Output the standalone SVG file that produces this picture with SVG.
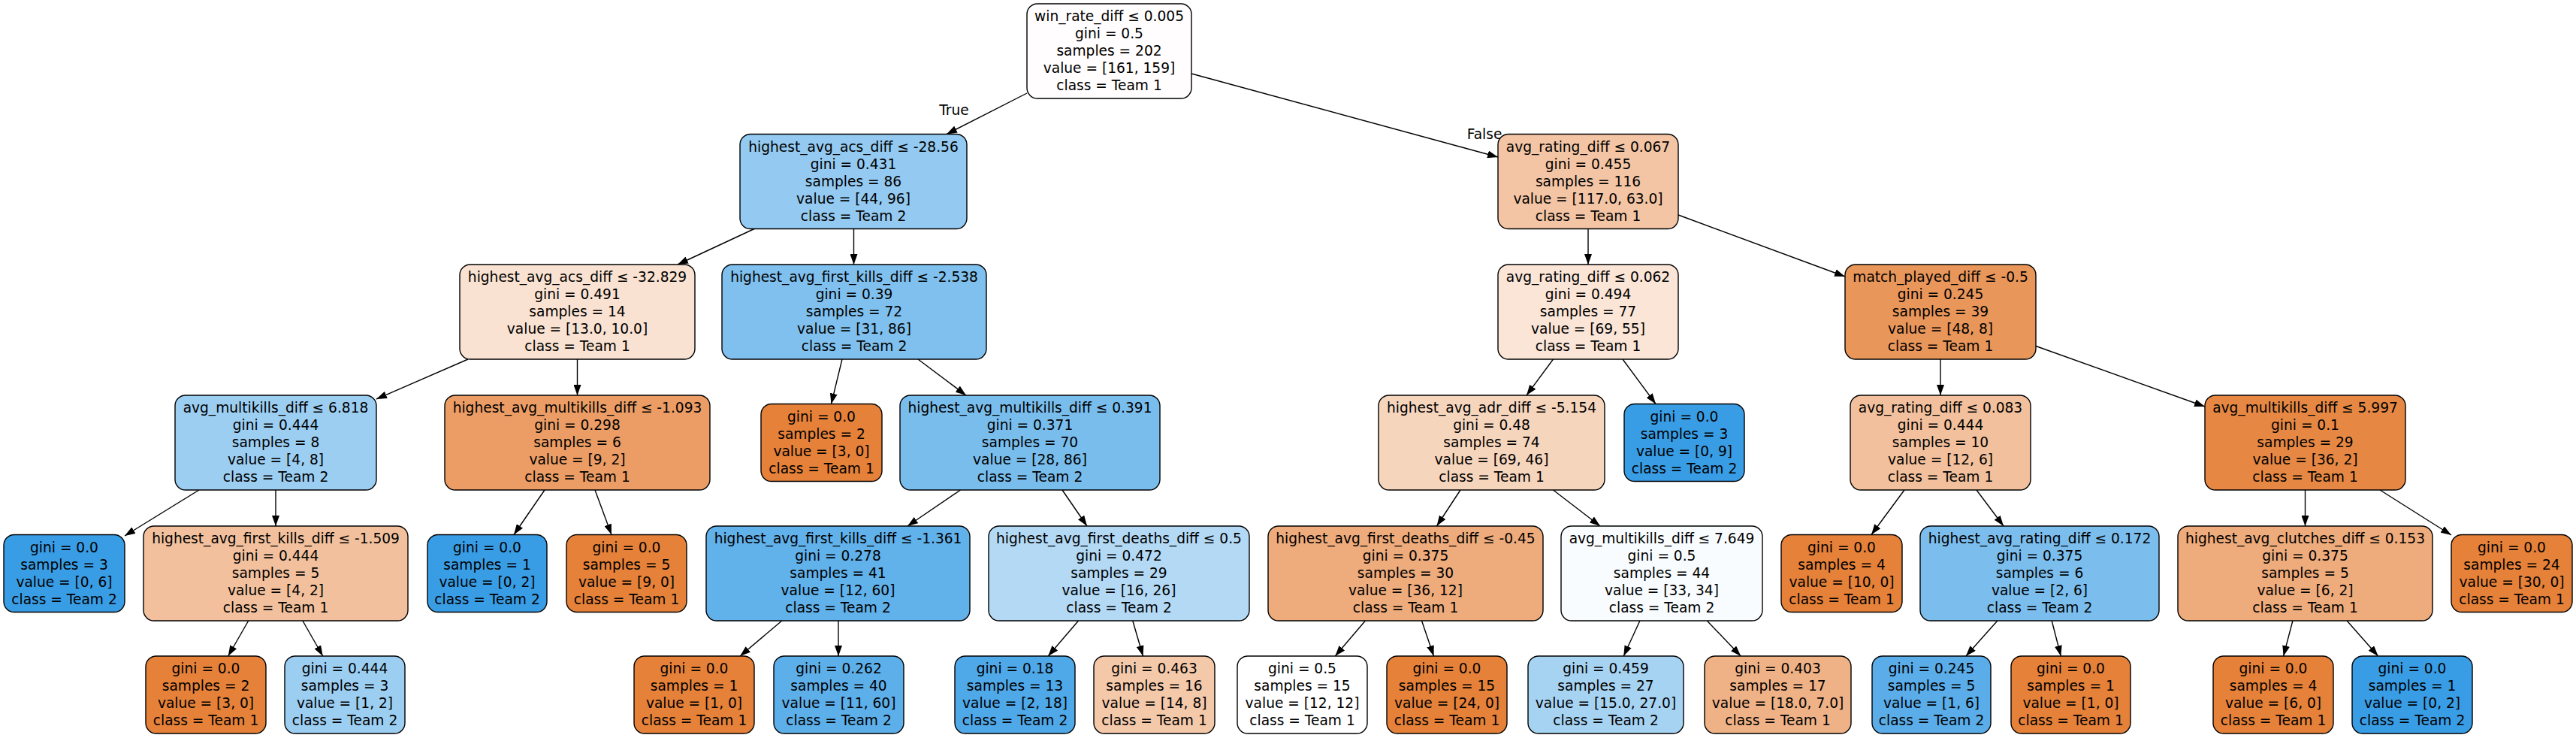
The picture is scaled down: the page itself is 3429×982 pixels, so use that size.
<svg xmlns="http://www.w3.org/2000/svg" width="3429" height="982" viewBox="0 0 3429 982">
<style>
.box{stroke:#000;stroke-width:1.4}
.t{font-family:"DejaVu Sans","Liberation Sans",sans-serif;font-size:18.6px;fill:#000;text-anchor:middle}
.e{stroke:#000;stroke-width:1.4;fill:none;marker-end:url(#arr)}
</style>
<defs>
<marker id="arr" markerWidth="14" markerHeight="10" refX="14" refY="5" orient="auto" markerUnits="userSpaceOnUse"><path d="M0,0 L14,5 L0,10 z" fill="#000"/></marker>
</defs>
<rect width="3429" height="982" fill="#fff"/>
<g id="connectors">
<line class="e" x1="1367" y1="124" x2="1260" y2="178.5"/>
<line class="e" x1="1586" y1="98" x2="1994" y2="209"/>
<line class="e" x1="1004" y1="304.5" x2="902" y2="352"/>
<line class="e" x1="1136.5" y1="304.5" x2="1136.5" y2="352"/>
<line class="e" x1="2114" y1="304.5" x2="2114" y2="352"/>
<line class="e" x1="2234" y1="286" x2="2456" y2="368"/>
<line class="e" x1="623" y1="478" x2="501" y2="531"/>
<line class="e" x1="768.5" y1="478" x2="768.5" y2="526"/>
<line class="e" x1="1121" y1="478" x2="1106.5" y2="537.5"/>
<line class="e" x1="1222" y1="478" x2="1286" y2="526"/>
<line class="e" x1="2067.5" y1="478" x2="2032" y2="526"/>
<line class="e" x1="2160" y1="478" x2="2204" y2="537.5"/>
<line class="e" x1="2583" y1="478" x2="2583" y2="526"/>
<line class="e" x1="2710" y1="460.5" x2="2935" y2="541"/>
<line class="e" x1="265" y1="652" x2="166" y2="713"/>
<line class="e" x1="367" y1="652" x2="367" y2="700"/>
<line class="e" x1="725" y1="652" x2="684" y2="711.5"/>
<line class="e" x1="792" y1="652" x2="814" y2="711.5"/>
<line class="e" x1="1278.5" y1="652" x2="1208" y2="700"/>
<line class="e" x1="1414" y1="652" x2="1447" y2="700"/>
<line class="e" x1="1944" y1="652" x2="1912.5" y2="700"/>
<line class="e" x1="2067.5" y1="652" x2="2130" y2="700"/>
<line class="e" x1="2535" y1="652" x2="2491" y2="711.5"/>
<line class="e" x1="2631" y1="652" x2="2667" y2="700"/>
<line class="e" x1="3068.5" y1="652" x2="3068.5" y2="700"/>
<line class="e" x1="3168" y1="652" x2="3263" y2="712"/>
<line class="e" x1="330.7" y1="826" x2="303.7" y2="873"/>
<line class="e" x1="402.9" y1="826" x2="429.7" y2="873"/>
<line class="e" x1="1040.8" y1="826" x2="985.1" y2="873"/>
<line class="e" x1="1116" y1="826" x2="1116" y2="873"/>
<line class="e" x1="1435.5" y1="826" x2="1395.2" y2="873"/>
<line class="e" x1="1507.8" y1="826" x2="1521.5" y2="873"/>
<line class="e" x1="1817.4" y1="826" x2="1777.3" y2="873"/>
<line class="e" x1="1892.5" y1="826" x2="1908.5" y2="873"/>
<line class="e" x1="2182.9" y1="826" x2="2161.3" y2="873"/>
<line class="e" x1="2272.3" y1="826" x2="2317.2" y2="873"/>
<line class="e" x1="2658.8" y1="826" x2="2616.9" y2="873"/>
<line class="e" x1="2731.2" y1="826" x2="2743.3" y2="873"/>
<line class="e" x1="3051.9" y1="826" x2="3039.6" y2="873"/>
<line class="e" x1="3124.1" y1="826" x2="3165.6" y2="873"/>
<text class="t" x="1270" y="153">True</text>
<text class="t" x="1976" y="185">False</text>
</g>
<g id="n0"><rect class="box" x="1367" y="5" width="219" height="126" rx="14" fill="#fffdfd"/><text class="t" x="1476.5" y="28"><tspan x="1476.5">win_rate_diff ≤ 0.005</tspan><tspan x="1476.5" dy="23">gini = 0.5</tspan><tspan x="1476.5" dy="23">samples = 202</tspan><tspan x="1476.5" dy="23">value = [161, 159]</tspan><tspan x="1476.5" dy="23">class = Team 1</tspan></text></g>
<g id="n1"><rect class="box" x="985" y="178.5" width="302" height="126" rx="14" fill="#94caf1"/><text class="t" x="1136" y="201.5"><tspan x="1136">highest_avg_acs_diff ≤ -28.56</tspan><tspan x="1136" dy="23">gini = 0.431</tspan><tspan x="1136" dy="23">samples = 86</tspan><tspan x="1136" dy="23">value = [44, 96]</tspan><tspan x="1136" dy="23">class = Team 2</tspan></text></g>
<g id="n2"><rect class="box" x="1994" y="178.5" width="240" height="126" rx="14" fill="#f3c5a4"/><text class="t" x="2114" y="201.5"><tspan x="2114">avg_rating_diff ≤ 0.067</tspan><tspan x="2114" dy="23">gini = 0.455</tspan><tspan x="2114" dy="23">samples = 116</tspan><tspan x="2114" dy="23">value = [117.0, 63.0]</tspan><tspan x="2114" dy="23">class = Team 1</tspan></text></g>
<g id="n3"><rect class="box" x="612" y="352" width="313" height="126" rx="14" fill="#f9e2d1"/><text class="t" x="768.5" y="375"><tspan x="768.5">highest_avg_acs_diff ≤ -32.829</tspan><tspan x="768.5" dy="23">gini = 0.491</tspan><tspan x="768.5" dy="23">samples = 14</tspan><tspan x="768.5" dy="23">value = [13.0, 10.0]</tspan><tspan x="768.5" dy="23">class = Team 1</tspan></text></g>
<g id="n4"><rect class="box" x="961" y="352" width="352" height="126" rx="14" fill="#80c0ee"/><text class="t" x="1137" y="375"><tspan x="1137">highest_avg_first_kills_diff ≤ -2.538</tspan><tspan x="1137" dy="23">gini = 0.39</tspan><tspan x="1137" dy="23">samples = 72</tspan><tspan x="1137" dy="23">value = [31, 86]</tspan><tspan x="1137" dy="23">class = Team 2</tspan></text></g>
<g id="n5"><rect class="box" x="1994" y="352" width="240" height="126" rx="14" fill="#fae5d7"/><text class="t" x="2114" y="375"><tspan x="2114">avg_rating_diff ≤ 0.062</tspan><tspan x="2114" dy="23">gini = 0.494</tspan><tspan x="2114" dy="23">samples = 77</tspan><tspan x="2114" dy="23">value = [69, 55]</tspan><tspan x="2114" dy="23">class = Team 1</tspan></text></g>
<g id="n6"><rect class="box" x="2456" y="352" width="254" height="126" rx="14" fill="#e9965a"/><text class="t" x="2583" y="375"><tspan x="2583">match_played_diff ≤ -0.5</tspan><tspan x="2583" dy="23">gini = 0.245</tspan><tspan x="2583" dy="23">samples = 39</tspan><tspan x="2583" dy="23">value = [48, 8]</tspan><tspan x="2583" dy="23">class = Team 1</tspan></text></g>
<g id="n7"><rect class="box" x="233" y="526" width="268" height="126" rx="14" fill="#9ccef2"/><text class="t" x="367" y="549"><tspan x="367">avg_multikills_diff ≤ 6.818</tspan><tspan x="367" dy="23">gini = 0.444</tspan><tspan x="367" dy="23">samples = 8</tspan><tspan x="367" dy="23">value = [4, 8]</tspan><tspan x="367" dy="23">class = Team 2</tspan></text></g>
<g id="n8"><rect class="box" x="592" y="526" width="353" height="126" rx="14" fill="#eb9d65"/><text class="t" x="768.5" y="549"><tspan x="768.5">highest_avg_multikills_diff ≤ -1.093</tspan><tspan x="768.5" dy="23">gini = 0.298</tspan><tspan x="768.5" dy="23">samples = 6</tspan><tspan x="768.5" dy="23">value = [9, 2]</tspan><tspan x="768.5" dy="23">class = Team 1</tspan></text></g>
<g id="n9"><rect class="box" x="1013" y="537.5" width="161" height="103" rx="14" fill="#e58139"/><text class="t" x="1093.5" y="560.5"><tspan x="1093.5">gini = 0.0</tspan><tspan x="1093.5" dy="23">samples = 2</tspan><tspan x="1093.5" dy="23">value = [3, 0]</tspan><tspan x="1093.5" dy="23">class = Team 1</tspan></text></g>
<g id="n10"><rect class="box" x="1198" y="526" width="346" height="126" rx="14" fill="#79bded"/><text class="t" x="1371" y="549"><tspan x="1371">highest_avg_multikills_diff ≤ 0.391</tspan><tspan x="1371" dy="23">gini = 0.371</tspan><tspan x="1371" dy="23">samples = 70</tspan><tspan x="1371" dy="23">value = [28, 86]</tspan><tspan x="1371" dy="23">class = Team 2</tspan></text></g>
<g id="n11"><rect class="box" x="1835" y="526" width="301" height="126" rx="14" fill="#f6d5bd"/><text class="t" x="1985.5" y="549"><tspan x="1985.5">highest_avg_adr_diff ≤ -5.154</tspan><tspan x="1985.5" dy="23">gini = 0.48</tspan><tspan x="1985.5" dy="23">samples = 74</tspan><tspan x="1985.5" dy="23">value = [69, 46]</tspan><tspan x="1985.5" dy="23">class = Team 1</tspan></text></g>
<g id="n12"><rect class="box" x="2162" y="537.5" width="160" height="103" rx="14" fill="#399de5"/><text class="t" x="2242" y="560.5"><tspan x="2242">gini = 0.0</tspan><tspan x="2242" dy="23">samples = 3</tspan><tspan x="2242" dy="23">value = [0, 9]</tspan><tspan x="2242" dy="23">class = Team 2</tspan></text></g>
<g id="n13"><rect class="box" x="2463" y="526" width="240" height="126" rx="14" fill="#f2c09c"/><text class="t" x="2583" y="549"><tspan x="2583">avg_rating_diff ≤ 0.083</tspan><tspan x="2583" dy="23">gini = 0.444</tspan><tspan x="2583" dy="23">samples = 10</tspan><tspan x="2583" dy="23">value = [12, 6]</tspan><tspan x="2583" dy="23">class = Team 1</tspan></text></g>
<g id="n14"><rect class="box" x="2935" y="526" width="267" height="126" rx="14" fill="#e68844"/><text class="t" x="3068.5" y="549"><tspan x="3068.5">avg_multikills_diff ≤ 5.997</tspan><tspan x="3068.5" dy="23">gini = 0.1</tspan><tspan x="3068.5" dy="23">samples = 29</tspan><tspan x="3068.5" dy="23">value = [36, 2]</tspan><tspan x="3068.5" dy="23">class = Team 1</tspan></text></g>
<g id="n15"><rect class="box" x="5" y="711.5" width="161" height="103" rx="14" fill="#399de5"/><text class="t" x="85.5" y="734.5"><tspan x="85.5">gini = 0.0</tspan><tspan x="85.5" dy="23">samples = 3</tspan><tspan x="85.5" dy="23">value = [0, 6]</tspan><tspan x="85.5" dy="23">class = Team 2</tspan></text></g>
<g id="n16"><rect class="box" x="191" y="700" width="352" height="126" rx="14" fill="#f2c09c"/><text class="t" x="367" y="723"><tspan x="367">highest_avg_first_kills_diff ≤ -1.509</tspan><tspan x="367" dy="23">gini = 0.444</tspan><tspan x="367" dy="23">samples = 5</tspan><tspan x="367" dy="23">value = [4, 2]</tspan><tspan x="367" dy="23">class = Team 1</tspan></text></g>
<g id="n17"><rect class="box" x="569" y="711.5" width="159" height="103" rx="14" fill="#399de5"/><text class="t" x="648.5" y="734.5"><tspan x="648.5">gini = 0.0</tspan><tspan x="648.5" dy="23">samples = 1</tspan><tspan x="648.5" dy="23">value = [0, 2]</tspan><tspan x="648.5" dy="23">class = Team 2</tspan></text></g>
<g id="n18"><rect class="box" x="754" y="711.5" width="160" height="103" rx="14" fill="#e58139"/><text class="t" x="834" y="734.5"><tspan x="834">gini = 0.0</tspan><tspan x="834" dy="23">samples = 5</tspan><tspan x="834" dy="23">value = [9, 0]</tspan><tspan x="834" dy="23">class = Team 1</tspan></text></g>
<g id="n19"><rect class="box" x="940" y="700" width="351" height="126" rx="14" fill="#61b1ea"/><text class="t" x="1115.5" y="723"><tspan x="1115.5">highest_avg_first_kills_diff ≤ -1.361</tspan><tspan x="1115.5" dy="23">gini = 0.278</tspan><tspan x="1115.5" dy="23">samples = 41</tspan><tspan x="1115.5" dy="23">value = [12, 60]</tspan><tspan x="1115.5" dy="23">class = Team 2</tspan></text></g>
<g id="n20"><rect class="box" x="1316" y="700" width="347" height="126" rx="14" fill="#b3d9f5"/><text class="t" x="1489.5" y="723"><tspan x="1489.5">highest_avg_first_deaths_diff ≤ 0.5</tspan><tspan x="1489.5" dy="23">gini = 0.472</tspan><tspan x="1489.5" dy="23">samples = 29</tspan><tspan x="1489.5" dy="23">value = [16, 26]</tspan><tspan x="1489.5" dy="23">class = Team 2</tspan></text></g>
<g id="n21"><rect class="box" x="1688" y="700" width="366" height="126" rx="14" fill="#eeab7b"/><text class="t" x="1871" y="723"><tspan x="1871">highest_avg_first_deaths_diff ≤ -0.45</tspan><tspan x="1871" dy="23">gini = 0.375</tspan><tspan x="1871" dy="23">samples = 30</tspan><tspan x="1871" dy="23">value = [36, 12]</tspan><tspan x="1871" dy="23">class = Team 1</tspan></text></g>
<g id="n22"><rect class="box" x="2078" y="700" width="268" height="126" rx="14" fill="#f9fcfe"/><text class="t" x="2212" y="723"><tspan x="2212">avg_multikills_diff ≤ 7.649</tspan><tspan x="2212" dy="23">gini = 0.5</tspan><tspan x="2212" dy="23">samples = 44</tspan><tspan x="2212" dy="23">value = [33, 34]</tspan><tspan x="2212" dy="23">class = Team 2</tspan></text></g>
<g id="n23"><rect class="box" x="2371" y="711.5" width="161" height="103" rx="14" fill="#e58139"/><text class="t" x="2451.5" y="734.5"><tspan x="2451.5">gini = 0.0</tspan><tspan x="2451.5" dy="23">samples = 4</tspan><tspan x="2451.5" dy="23">value = [10, 0]</tspan><tspan x="2451.5" dy="23">class = Team 1</tspan></text></g>
<g id="n24"><rect class="box" x="2556" y="700" width="318" height="126" rx="14" fill="#7bbeee"/><text class="t" x="2715" y="723"><tspan x="2715">highest_avg_rating_diff ≤ 0.172</tspan><tspan x="2715" dy="23">gini = 0.375</tspan><tspan x="2715" dy="23">samples = 6</tspan><tspan x="2715" dy="23">value = [2, 6]</tspan><tspan x="2715" dy="23">class = Team 2</tspan></text></g>
<g id="n25"><rect class="box" x="2899" y="700" width="339" height="126" rx="14" fill="#eeab7b"/><text class="t" x="3068.5" y="723"><tspan x="3068.5">highest_avg_clutches_diff ≤ 0.153</tspan><tspan x="3068.5" dy="23">gini = 0.375</tspan><tspan x="3068.5" dy="23">samples = 5</tspan><tspan x="3068.5" dy="23">value = [6, 2]</tspan><tspan x="3068.5" dy="23">class = Team 1</tspan></text></g>
<g id="n26"><rect class="box" x="3263" y="711.5" width="161" height="103" rx="14" fill="#e58139"/><text class="t" x="3343.5" y="734.5"><tspan x="3343.5">gini = 0.0</tspan><tspan x="3343.5" dy="23">samples = 24</tspan><tspan x="3343.5" dy="23">value = [30, 0]</tspan><tspan x="3343.5" dy="23">class = Team 1</tspan></text></g>
<g id="n27"><rect class="box" x="194" y="873" width="160" height="103" rx="14" fill="#e58139"/><text class="t" x="274" y="896"><tspan x="274">gini = 0.0</tspan><tspan x="274" dy="23">samples = 2</tspan><tspan x="274" dy="23">value = [3, 0]</tspan><tspan x="274" dy="23">class = Team 1</tspan></text></g>
<g id="n28"><rect class="box" x="379" y="873" width="160" height="103" rx="14" fill="#9ccef2"/><text class="t" x="459" y="896"><tspan x="459">gini = 0.444</tspan><tspan x="459" dy="23">samples = 3</tspan><tspan x="459" dy="23">value = [1, 2]</tspan><tspan x="459" dy="23">class = Team 2</tspan></text></g>
<g id="n29"><rect class="box" x="844" y="873" width="160" height="103" rx="14" fill="#e58139"/><text class="t" x="924" y="896"><tspan x="924">gini = 0.0</tspan><tspan x="924" dy="23">samples = 1</tspan><tspan x="924" dy="23">value = [1, 0]</tspan><tspan x="924" dy="23">class = Team 1</tspan></text></g>
<g id="n30"><rect class="box" x="1030" y="873" width="173" height="103" rx="14" fill="#5dafea"/><text class="t" x="1116.5" y="896"><tspan x="1116.5">gini = 0.262</tspan><tspan x="1116.5" dy="23">samples = 40</tspan><tspan x="1116.5" dy="23">value = [11, 60]</tspan><tspan x="1116.5" dy="23">class = Team 2</tspan></text></g>
<g id="n31"><rect class="box" x="1271" y="873" width="160" height="103" rx="14" fill="#4fa8e8"/><text class="t" x="1351" y="896"><tspan x="1351">gini = 0.18</tspan><tspan x="1351" dy="23">samples = 13</tspan><tspan x="1351" dy="23">value = [2, 18]</tspan><tspan x="1351" dy="23">class = Team 2</tspan></text></g>
<g id="n32"><rect class="box" x="1456" y="873" width="161" height="103" rx="14" fill="#f4c9aa"/><text class="t" x="1536.5" y="896"><tspan x="1536.5">gini = 0.463</tspan><tspan x="1536.5" dy="23">samples = 16</tspan><tspan x="1536.5" dy="23">value = [14, 8]</tspan><tspan x="1536.5" dy="23">class = Team 1</tspan></text></g>
<g id="n33"><rect class="box" x="1647" y="873" width="173" height="103" rx="14" fill="#ffffff"/><text class="t" x="1733.5" y="896"><tspan x="1733.5">gini = 0.5</tspan><tspan x="1733.5" dy="23">samples = 15</tspan><tspan x="1733.5" dy="23">value = [12, 12]</tspan><tspan x="1733.5" dy="23">class = Team 1</tspan></text></g>
<g id="n34"><rect class="box" x="1846" y="873" width="160" height="103" rx="14" fill="#e58139"/><text class="t" x="1926" y="896"><tspan x="1926">gini = 0.0</tspan><tspan x="1926" dy="23">samples = 15</tspan><tspan x="1926" dy="23">value = [24, 0]</tspan><tspan x="1926" dy="23">class = Team 1</tspan></text></g>
<g id="n35"><rect class="box" x="2034" y="873" width="207" height="103" rx="14" fill="#a7d3f3"/><text class="t" x="2137.5" y="896"><tspan x="2137.5">gini = 0.459</tspan><tspan x="2137.5" dy="23">samples = 27</tspan><tspan x="2137.5" dy="23">value = [15.0, 27.0]</tspan><tspan x="2137.5" dy="23">class = Team 2</tspan></text></g>
<g id="n36"><rect class="box" x="2269" y="873" width="195" height="103" rx="14" fill="#efb286"/><text class="t" x="2366.5" y="896"><tspan x="2366.5">gini = 0.403</tspan><tspan x="2366.5" dy="23">samples = 17</tspan><tspan x="2366.5" dy="23">value = [18.0, 7.0]</tspan><tspan x="2366.5" dy="23">class = Team 1</tspan></text></g>
<g id="n37"><rect class="box" x="2492" y="873" width="158" height="103" rx="14" fill="#5aade9"/><text class="t" x="2571" y="896"><tspan x="2571">gini = 0.245</tspan><tspan x="2571" dy="23">samples = 5</tspan><tspan x="2571" dy="23">value = [1, 6]</tspan><tspan x="2571" dy="23">class = Team 2</tspan></text></g>
<g id="n38"><rect class="box" x="2677" y="873" width="159" height="103" rx="14" fill="#e58139"/><text class="t" x="2756.5" y="896"><tspan x="2756.5">gini = 0.0</tspan><tspan x="2756.5" dy="23">samples = 1</tspan><tspan x="2756.5" dy="23">value = [1, 0]</tspan><tspan x="2756.5" dy="23">class = Team 1</tspan></text></g>
<g id="n39"><rect class="box" x="2946" y="873" width="160" height="103" rx="14" fill="#e58139"/><text class="t" x="3026" y="896"><tspan x="3026">gini = 0.0</tspan><tspan x="3026" dy="23">samples = 4</tspan><tspan x="3026" dy="23">value = [6, 0]</tspan><tspan x="3026" dy="23">class = Team 1</tspan></text></g>
<g id="n40"><rect class="box" x="3131" y="873" width="160" height="103" rx="14" fill="#399de5"/><text class="t" x="3211" y="896"><tspan x="3211">gini = 0.0</tspan><tspan x="3211" dy="23">samples = 1</tspan><tspan x="3211" dy="23">value = [0, 2]</tspan><tspan x="3211" dy="23">class = Team 2</tspan></text></g>
</svg>
